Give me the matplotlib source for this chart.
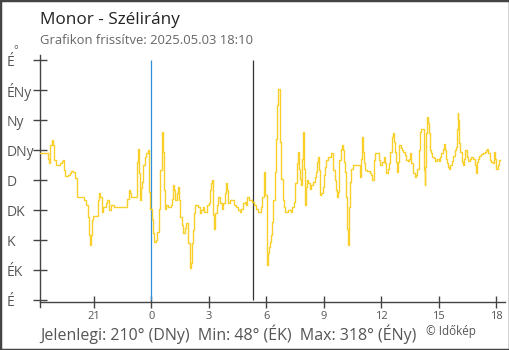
import matplotlib.pyplot as plt
from matplotlib.patches import Rectangle

plt.rcParams['font.family'] = ['Open Sans', 'DejaVu Sans']

# minutes since 2025.05.02 18:10, wind direction in degrees
minutes = [0, 25, 28, 32, 34, 38, 41, 44, 50, 63, 69, 72, 77, 81, 90, 94, 98, 106, 110, 117,
           140, 144, 150, 152, 154, 157, 161, 164, 168, 184, 187, 190, 194, 199, 208, 211, 218, 225, 232,
           275, 279, 282, 285, 306, 308, 310, 313, 316, 320, 325, 329, 334, 338, 342, 347, 352, 356, 359,
           364, 368, 373, 378, 382, 386, 389, 392, 397, 402, 410, 414, 417, 420, 425, 429, 433, 437, 441,
           445, 450, 454, 458, 466, 470, 474, 477, 480, 483, 487, 495, 501, 506, 511, 516, 524, 529, 532,
           535, 539, 542, 546, 549, 555, 560, 566, 570, 574, 580, 584, 588, 591, 597, 610, 616, 621, 626,
           631, 636, 642, 645, 649, 654, 666, 671, 676, 683, 692, 697, 701, 704, 707, 711, 713, 716, 719,
           722, 725, 728, 732, 736, 740, 743, 746, 753, 757, 762, 765, 769, 779, 786, 791, 796, 801, 805,
           808, 812, 815, 817, 820, 823, 826, 829, 830, 834, 837, 841, 845, 850, 855, 861, 866, 869, 871,
           874, 877, 882, 886, 889, 893, 897, 902, 913, 917, 920, 924, 927, 931, 934, 938, 942, 947, 951,
           952, 955, 959, 962, 965, 968, 971, 976, 981, 1004, 1006, 1009, 1012, 1016, 1020, 1024, 1033,
           1038, 1042, 1046, 1050, 1062, 1066, 1071, 1077, 1081, 1085, 1090, 1093, 1098, 1102, 1106, 1109,
           1112, 1116, 1120, 1123, 1126, 1130, 1135, 1139, 1143, 1148, 1152, 1156, 1160, 1164, 1168, 1174,
           1179, 1183, 1187, 1190, 1195, 1202, 1205, 1207, 1210, 1212, 1215, 1219, 1222, 1226, 1230, 1234,
           1239, 1244, 1249, 1253, 1257, 1262, 1265, 1270, 1273, 1276, 1279, 1282, 1286, 1290, 1295, 1299,
           1303, 1306, 1309, 1311, 1314, 1317, 1321, 1325, 1328, 1331, 1339, 1342, 1346, 1351, 1356, 1362,
           1365, 1368, 1372, 1377, 1383, 1388, 1393, 1398, 1401, 1405, 1409, 1414, 1419, 1422, 1424, 1427,
           1430, 1434, 1437, 1440]
direction = [221, 212, 205, 222, 232, 240, 232, 210, 202, 206, 208, 210, 195, 186, 187, 190, 194, 192, 183, 155,
             150, 143, 140, 125, 97, 82, 97, 120, 126, 150, 161, 155, 132, 140, 145, 150, 135, 142, 140,
             152, 165, 160, 155, 207, 227, 190, 150, 168, 177, 202, 215, 220, 225, 162, 137, 122, 100, 87,
             90, 102, 137, 195, 252, 222, 165, 137, 142, 140, 142, 152, 172, 165, 150, 160, 170, 150, 125,
             112, 100, 108, 115, 85, 48, 55, 85, 105, 130, 142, 140, 130, 135, 140, 132, 142, 145, 165,
             175, 180, 127, 107, 130, 142, 155, 145, 137, 145, 160, 175, 165, 145, 150, 142, 140, 135, 132,
             137, 145, 147, 142, 155, 150, 147, 142, 137, 132, 140, 155, 157, 192, 157, 87, 52, 70, 80,
             87, 97, 117, 150, 192, 242, 292, 317, 237, 182, 150, 140, 132, 135, 132, 140, 147, 175, 205,
             222, 197, 182, 172, 180, 212, 252, 197, 142, 170, 180, 175, 167, 172, 177, 185, 192, 207, 215,
             195, 157, 160, 170, 187, 200, 210, 215, 220, 215, 195, 180, 165, 155, 162, 210, 227, 233, 225,
             207, 192, 155, 107, 82, 140, 177, 197, 202, 185, 212, 245, 222, 205, 195, 193, 191,
             187, 180, 210, 221, 210, 202, 207, 214, 205, 191, 197, 205, 222, 245, 250, 237,
             222, 207, 192, 207, 232, 228, 225, 222, 217, 210, 208, 211, 220, 205, 190, 185,
             187, 197, 225, 252, 256, 195, 172, 200, 250, 275, 265, 250, 225, 220, 215, 213,
             208, 211, 208, 214, 220, 227, 234, 225, 212, 206, 200, 196, 202, 208, 216, 225,
             230, 256, 281, 270, 235, 222, 207, 202, 212, 225, 215, 208, 211, 215, 211, 202,
             191, 207, 212, 216, 219, 221, 222, 225, 227, 220, 210, 207, 205, 215, 222, 212,
             197, 202, 210, 210]

start_hour = -35 / 6  # 18:10 the day before
sunrise = 5.3
xticks = [-3, 0, 3, 6, 9, 12, 15, 18]
xtick_labels = ['21', '0', '3', '6', '9', '12', '15', '18']
yticks = [0, 45, 90, 135, 180, 225, 270, 315, 360]
ytick_labels = ['É', 'ÉK', 'K', 'DK', 'D', 'DNy', 'Ny', 'ÉNy', 'É']

W, H = 510, 350
fig = plt.figure(figsize=(W / 100, H / 100), dpi=100)
ax = fig.add_axes([40 / W, 43 / H, 465 / W, 252 / H])

hours = [start_hour + m / 60 for m in minutes]
ax.step(hours, direction, where='post', color='#F9CF2A', lw=1.0, zorder=3)
ax.vlines(0, 0, 360, color='#2f8fd8', lw=0.9, zorder=2)
ax.vlines(sunrise, 0, 360, color='#333333', lw=0.9, zorder=2)

ax.set_xlim(start_hour + 0.02, 18.45)
ax.set_ylim(-10.5, 367.5)
for s in ['top', 'right']:
    ax.spines[s].set_visible(False)
ax.spines['bottom'].set_position(('data', -2.5))
for s in ['left', 'bottom']:
    ax.spines[s].set_color('#444444')
    ax.spines[s].set_linewidth(1.0)

ax.set_xticks(xticks)
ax.set_xticklabels(xtick_labels)
ax.set_yticks(yticks)
ax.set_yticklabels(ytick_labels)
ax.tick_params(axis='x', direction='inout', length=8, width=1.0, color='#444444',
               labelsize=8, labelcolor='#555555', pad=3)
ax.tick_params(axis='y', direction='inout', length=10, width=1.0, color='#444444',
               labelsize=10, labelcolor='#555555', pad=19)
for lab in ax.get_yticklabels():
    lab.set_horizontalalignment('left')

fig.text(13 / W, 1 - 53 / H, '°', fontsize=8, color='#555555')

fig.text(40 / W, 1 - 24 / H, 'Monor - Szélirány', fontsize=12.3, color='#222222', va='baseline')
fig.text(40 / W, 1 - 44.5 / H, 'Grafikon frissítve: 2025.05.03 18:10', fontsize=9.4,
         color='#666666', va='baseline')
fig.text(40 / W, 1 - 339.5 / H, 'Jelenlegi: 210° (DNy)  Min: 48° (ÉK)  Max: 318° (ÉNy)',
         fontsize=11.5, color='#555555', va='baseline')
fig.text(426 / W, 1 - 335.5 / H, '© Időkép', fontsize=8.4, color='#555555', va='baseline')

fig.patches.append(Rectangle((0, 0), 1, 1, transform=fig.transFigure, fill=False,
                             edgecolor='#444444', lw=2.5))

fig.savefig('out.png', dpi=100)
